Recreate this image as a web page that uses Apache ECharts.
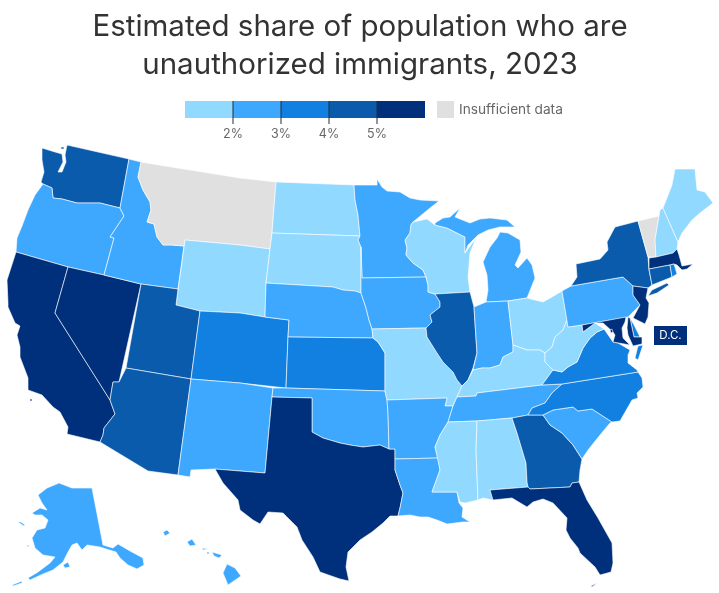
<!DOCTYPE html>
<html><head><meta charset="utf-8">
<style>html,body{margin:0;padding:0;background:#fff}#c{width:719px;height:593px}</style>
<script src="https://cdn.jsdelivr.net/npm/echarts@6/dist/echarts.min.js"></script>
</head><body><div id="c"></div>
<script>
// Data (share of population, %, null = insufficient data)
const stateNames = ['WA','OR','CA','NV','ID','MT','WY','UT','AZ','CO','NM','ND','SD','NE','KS','OK','TX','MN','IA','MO','AR','LA','WI','IL','MI','IN','OH','KY','TN','MS','AL','GA','FL','SC','NC','VA','WV','PA','NY','VT','NH','ME','MA','CT','RI','NJ','DE','MD','DC','AK','HI'];
const shareValues = [4.5,2.5,5.5,5.5,2.5,null,1.5,4.5,4.5,3.5,2.5,1.5,1.5,2.5,3.5,2.5,5.5,2.5,2.5,1.5,2.5,2.5,1.5,4.5,2.5,2.5,1.5,1.5,2.5,1.5,1.5,4.5,5.5,2.5,3.5,3.5,1.5,2.5,4.5,null,1.5,1.5,5.5,4.5,3.5,5.5,3.5,5.5,5.5,2.5,2.5];
const binColors = ['#91d9ff','#3ea8ff','#1280e0','#0b5bad','#00307c'];
const noDataColor = '#e0e0e0';
const tickLabels = ['2%','3%','4%','5%'];
const titleLines = ['Estimated share of population who are','unauthorized immigrants, 2023'];

// State outlines: base-map geometry, traced in picture units
const outlines = {
WA:['42,148 55,152 62,154 63,162 58,172 62,172 66,162 65,155 67,145 129,159 120,208 100,203 77,203 62,199 53,198 52,188 43,184 41,182 44,172 42,160','61,147 64,147 64,149 61,149'],
OR:['43,184 52,188 53,198 62,199 77,203 100,203 120,208 124,216 110,237 114,238 104,275 68,267 16,252 17,238 22,226 28,210 35,195'],
CA:['16,252 68,267 55,313 110,400 115,414 104,428 103,435 100,442 67,434 68,427 60,412 53,407 42,395 28,390 28,378 20,357 20,347 17,335 20,326 15,323 8,307 8,303 7,280','30,399 32,399 32,401 30,401'],
NV:['68,267 104,275 141,284 119,382 113,382 110,400 55,313'],
ID:['129,159 141,162 138,177 143,190 150,202 151,210 147,222 154,224 157,237 163,245 172,245 184,246 178,289 141,284 104,275 114,238 110,237 124,216 120,208'],
MT:['141,162 165,166 190,170 215,174 240,178 276,182 272,233 270,249 240,245 185,240 184,246 172,245 163,245 157,237 154,224 147,222 151,210 150,202 143,190 138,177'],
WY:['185,240 240,245 270,249 266,283 265,317 240,313 200,311 176,305'],
UT:['141,284 178,289 176,305 200,311 191,379 126,368'],
AZ:['126,368 191,379 178,475 148,471 100,442 103,435 104,428 115,414 110,400 113,382 119,382'],
CO:['200,311 240,313 265,317 289,320 288,337 286,388 240,383 191,379'],
NM:['191,379 240,383 273,388 272,397 265,473 215,469 191,470 190,477 178,475'],
ND:['276,182 354,185 355,200 358,215 360,236 272,233'],
SD:['272,233 360,236 358,240 361,247 361,293 355,291 343,290 333,287 266,283 270,249'],
NE:['266,283 333,287 343,290 355,291 361,293 366,308 369,320 372,329 373,338 288,337 289,320 265,317'],
KS:['288,337 373,338 378,342 385,353 385,370 385,391 286,388'],
OK:['273,388 286,388 385,391 387,400 388,413 389,449 380,445 363,447 350,445 340,443 323,438 312,432 312,398 272,397'],
TX:['272,397 312,398 312,432 323,438 340,443 350,445 363,447 380,445 389,449 395,449 395,459 395,470 400,485 403,493 400,508 398,516 390,516 383,523 372,532 360,540 348,552 346,567 349,581 340,579 320,572 313,557 302,540 297,527 283,513 268,512 260,524 253,520 240,510 238,500 223,483 215,469 265,473'],
MN:['354,185 377,185 377,179 382,187 387,191 400,192 410,198 420,200 439,201 430,208 413,222 411,225 410,233 405,240 407,248 406,255 413,263 423,270 426,277 362,278 361,247 358,240 360,236 358,215 355,200'],
IA:['362,278 426,277 428,285 428,292 435,294 440,302 440,307 430,315 432,322 426,328 372,329 369,320 366,308 361,293 361,247'],
MO:['372,329 426,328 427,337 437,353 443,362 453,372 457,380 462,386 457,397 453,406 445,406 447,398 387,400 385,391 385,370 385,353 378,342 373,338'],
AR:['387,400 447,398 445,406 453,406 448,422 440,435 435,447 438,458 395,459 395,449 389,449 388,413'],
LA:['395,459 438,458 440,470 432,492 457,492 459,503 463,508 462,517 470,522 463,522 447,524 437,520 428,517 420,517 410,515 398,516 400,508 403,493 400,485 395,470'],
WI:['413,222 427,219 435,225 447,228 465,237 465,253 476,238 470,253 468,277 470,292 435,294 428,292 428,285 426,277 423,270 413,263 406,255 407,248 405,240 410,233 411,225'],
IL:['435,294 470,292 474,307 475,323 477,353 473,368 468,380 462,386 457,380 453,372 443,362 437,353 427,337 426,328 432,322 430,315 440,307 440,302'],
MI:['435,225 435,223 443,218 450,217 460,208 455,217 470,223 480,219 490,218 507,220 515,227 500,227 488,230 478,235 468,245 465,253 465,237 447,228','500,232 508,233 520,240 521,252 515,265 518,268 527,258 532,265 535,278 527,298 508,301 486,302 488,290 487,275 483,262 490,247 497,238'],
IN:['474,307 486,302 508,301 513,345 513,352 503,357 500,365 490,368 482,368 473,370 477,353 475,323'],
OH:['508,301 527,298 543,302 552,297 562,291 567,320 563,330 555,337 552,347 545,353 540,350 527,350 513,345'],
KY:['457,397 462,386 468,380 473,370 482,368 490,368 500,365 503,357 513,352 513,345 527,350 540,350 545,353 545,362 553,370 542,385 477,393 476,396'],
TN:['457,397 476,396 477,393 542,385 562,384 552,393 545,403 532,408 528,415 512,418 477,421 448,422 453,406'],
MS:['448,422 477,421 476,450 478,500 465,503 460,502 457,492 432,492 440,470 435,447 440,435'],
AL:['477,421 512,418 517,433 526,463 527,482 528,487 490,490 493,500 483,498 478,500 476,450'],
GA:['512,418 528,415 543,415 550,425 562,433 573,445 582,459 583,460 580,470 579,482 572,483 570,487 530,489 528,487 527,482 526,463 517,433'],
FL:['490,490 528,487 530,489 570,487 572,483 579,482 587,500 598,518 612,543 613,563 611,572 600,575 595,567 580,553 578,548 570,538 566,530 567,518 553,503 543,499 533,502 527,507 512,498 493,500','591,586 597,583 598,584 592,587'],
SC:['543,415 553,410 573,407 578,411 592,409 612,422 610,423 600,435 588,450 582,459 573,445 562,433 550,425'],
NC:['562,384 638,372 642,378 643,387 637,393 638,398 632,400 620,421 612,422 592,409 578,411 573,407 553,410 543,415 528,415 532,408 545,403 552,393'],
VA:['542,385 553,370 562,372 568,367 577,362 583,348 590,338 597,332 604,329 613,342 618,343 630,350 628,355 628,363 637,370 638,372 562,384','638,346 643,345 638,360 635,358'],
WV:['567,320 568,327 582,325 583,332 595,323 604,329 597,332 590,338 583,348 577,362 568,367 562,372 553,370 545,362 545,353 552,347 555,337 563,330'],
PA:['562,291 571,286 623,277 633,286 633,295 640,305 628,317 582,325 568,327'],
NY:['571,286 577,277 576,264 600,259 608,250 607,242 615,227 638,221 648,257 649,270 652,285 648,288 633,286 623,277','652,290 667,283 669,285 657,293 648,296'],
VT:['638,221 659,216 655,240 656,257 648,257'],
NH:['660,210 663,208 678,242 677,249 673,253 656,257 655,240 659,216'],
ME:['663,208 672,185 675,169 695,169 697,190 705,192 713,203 700,213 692,220 682,233 678,242'],
MA:['649,258 656,257 673,253 677,249 679,255 682,266 693,264 687,269 682,270 677,265 674,264 670,265 649,269'],
CT:['649,269 670,265 672,277 652,285'],
RI:['670,265 674,264 677,274 672,277'],
NJ:['633,286 648,288 646,298 649,303 648,317 645,324 633,318 640,305 633,295'],
DE:['630,318 634,325 640,337 634,337'],
MD:['582,325 626,317 625,322 622,328 623,338 630,345 613,342 615,335 613,332 603,323 595,323 583,332','628,317 630,318 634,337 642,337 642,344 633,346 628,335 627,328'],
DC:['610,330 612,329 613,332 611,333'],
AK:['59,483 72,488 92,488 103,545 113,548 118,544 130,551 143,558 144,565 137,569 128,565 120,558 116,552 106,549 100,547 87,545 82,550 77,543 72,545 68,552 63,562 53,570 43,574 30,580 28,578 38,572 50,563 55,557 43,555 35,548 32,538 37,530 45,528 48,520 42,515 35,515 32,513 40,508 47,510 42,503 38,495 47,488','63,565 68,562 70,567 65,568','18,522 21,522 25,525 24,526','27,545 30,546 29,547 27,547','12,585 22,581 22,583 13,586'],
HI:['227,564 235,568 241,576 228,585 223,573','212,552 222,555 219,558 214,556','187,542 192,539 196,545 190,546','163,532 167,530 170,533 165,536','202,548 208,549 208,550 203,550','207,552 209,552 209,554 207,554']
};

const H = 593;
const features = stateNames.map(n => ({
  type:'Feature', properties:{name:n},
  geometry:{type:'MultiPolygon', coordinates: outlines[n].map(s => [s.split(' ').map(p => { const a=p.split(',').map(Number); return [a[0], H-a[1]]; })])}
}));
echarts.registerMap('usa', {type:'FeatureCollection', features});

function colorOf(v){ if(v==null) return noDataColor; const i=Math.min(4,Math.max(0,Math.floor(v)-1)); return binColors[i]; }

const font = 'Inter, "Noto Sans", sans-serif';
const legend = [];
const cellX = 185, cellW = 48;
binColors.forEach((c,i)=>legend.push({type:'rect',shape:{x:cellX+i*cellW,y:101,width:cellW,height:17},style:{fill:c},silent:true}));
tickLabels.forEach((t,i)=>{
  const x = cellX+(i+1)*cellW;
  legend.push({type:'line',shape:{x1:x,y1:101,x2:x,y2:124},style:{stroke:'#1f2d3d',lineWidth:1},silent:true,z:5});
  legend.push({type:'text',style:{x,y:128,text:t,align:'center',verticalAlign:'top',font:'12.5px '+font,fill:'#666'},silent:true});
});
legend.push({type:'rect',shape:{x:437,y:101,width:17,height:17},style:{fill:noDataColor},silent:true});
legend.push({type:'text',style:{x:459,y:109.5,text:'Insufficient data',align:'left',verticalAlign:'middle',font:'13.7px '+font,fill:'#666'},silent:true});
legend.push({type:'rect',shape:{x:654,y:326,width:33,height:19},style:{fill:binColors[4]},silent:true,z:6});
legend.push({type:'text',style:{x:670.5,y:335.5,text:'D.C.',align:'center',verticalAlign:'middle',font:'11.5px '+font,fill:'#fff'},silent:true,z:7});
titleLines.forEach((t,i)=>legend.push({type:'text',style:{x:360,y:27+i*38,text:t,align:'center',verticalAlign:'middle',font:'29.5px '+font,fill:'#333'},silent:true}));

const chart = echarts.init(document.getElementById('c'),null,{renderer:'canvas'});
chart.setOption({
  animation:false,
  backgroundColor:'#fff',
  series:[{
    type:'map', map:'usa', roam:false, silent:true,
    left:0, top:0, width:719, height:593, aspectScale:1,
    boundingCoords:[[0,593],[719,0]],
    label:{show:false},
    itemStyle:{borderColor:'#fff',borderWidth:0.6,areaColor:noDataColor},
    emphasis:{disabled:true}, select:{disabled:true},
    data: stateNames.map((n,i)=>({name:n,value:shareValues[i],itemStyle:{areaColor:colorOf(shareValues[i])}}))
  }],
  graphic:{elements:legend}
});
</script></body></html>
